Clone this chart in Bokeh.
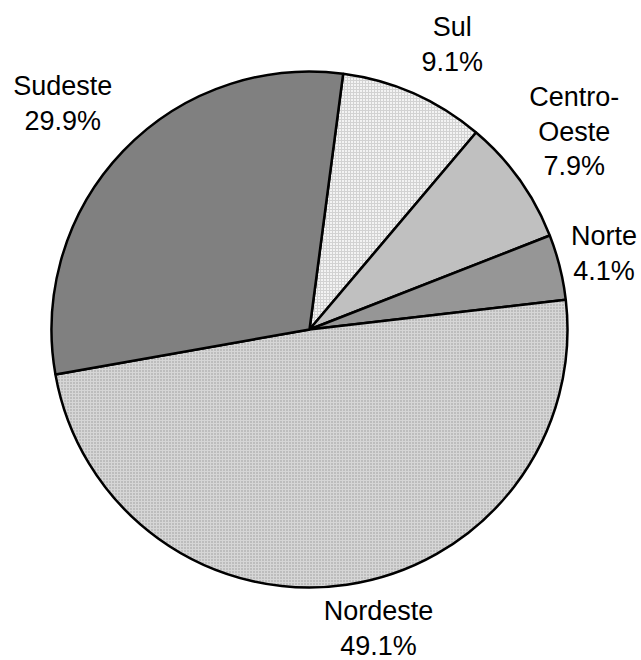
import math
from bokeh.plotting import figure
from bokeh.models import ColumnDataSource, Range1d
from bokeh.embed import file_html
from bokeh.resources import INLINE
from bokeh.core.properties import value

# ---- data ----
regions = ["Sul", "Centro-Oeste", "Norte", "Nordeste", "Sudeste"]
shares = [9.1, 7.9, 4.1, 49.1, 29.9]

# ---- styles ----
fill_colors = ["#f3f3f3", "#c0c0c0", "#969696", "#d6d6d6", "#808080"]
hatch_patterns = ["cross", "blank", "blank", "dot", "blank"]
hatch_colors = ["#d2d2d2", "#c0c0c0", "#969696", "#999999", "#808080"]

# ---- layout ----
W, H = 641, 660
CX, CY, R = 309, H - 329, 258
START_DEG = 82.5
LABEL_DIST = 318
label_nudge_x = [14, 6, -14, 23, -17]
label_nudge_y = [-6, 13, -1, 16, 6]

total = sum(shares)
starts, ends, mids = [], [], []
a = START_DEG
for s in shares:
    sweep = s / total * 360.0
    starts.append(math.radians(a))
    ends.append(math.radians(a - sweep))
    mids.append(math.radians(a - sweep / 2))
    a -= sweep

src = ColumnDataSource(dict(
    x=[CX] * len(regions), y=[CY] * len(regions),
    start=starts, end=ends,
    fill=fill_colors, hp=hatch_patterns, hc=hatch_colors,
))

p = figure(width=W, height=H, x_range=Range1d(0, W), y_range=Range1d(0, H),
           output_backend="svg", toolbar_location=None,
           x_axis_location=None, y_axis_location=None,
           min_border=0, outline_line_color=None, background_fill_color="white")
p.grid.visible = False

p.wedge(x="x", y="y", radius=R, start_angle="start", end_angle="end",
        direction="clock", source=src,
        fill_color="fill", hatch_pattern="hp", hatch_color="hc",
        hatch_scale=3, hatch_weight=1,
        line_color="black", line_width=2.5)

labels = []
lx, ly = [], []
for i, (r, s) in enumerate(zip(regions, shares)):
    name = r.replace("-", "-\n")
    labels.append(f"{name}\n{s:.1f}%")
    lx.append(CX + LABEL_DIST * math.cos(mids[i]) + label_nudge_x[i])
    ly.append(CY + LABEL_DIST * math.sin(mids[i]) + label_nudge_y[i])

p.text(x=lx, y=ly, text=labels, text_font=value("Liberation Sans"),
       text_font_size="27px", text_align="center", text_baseline="middle",
       text_line_height=1.16, text_color="black")

open("out.html", "w").write(file_html(p, INLINE))
